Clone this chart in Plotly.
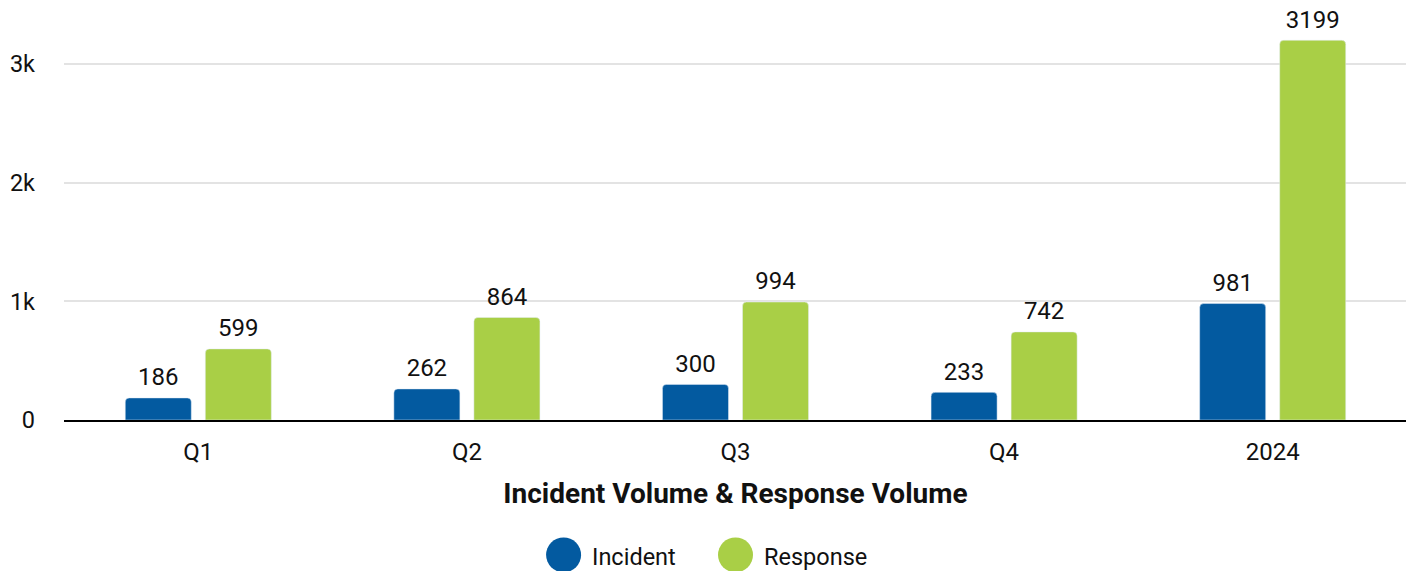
import plotly.graph_objects as go

categories = ["Q1", "Q2", "Q3", "Q4", "2024"]
incident = [186, 262, 300, 233, 981]
response = [599, 864, 994, 742, 3199]
series_names = ["Incident", "Response"]
colors = ["#035AA0", "#A9CF46"]
y_tickvals = [0, 1000, 2000, 3000]
y_ticktext = ["0", "1k", "2k", "3k"]
x_title = "Incident Volume & Response Volume"

FONT = "Roboto"
TXT = "#111111"

fig = go.Figure()
for name, vals, col in zip(series_names, [incident, response], colors):
    fig.add_trace(go.Bar(
        x=categories, y=vals, name=name, marker_color=col,
        offsetgroup=name, showlegend=False, hoverinfo="x+y+name",
    ))
    fig.add_trace(go.Scatter(
        x=categories, y=vals, mode="markers+text", text=[str(v) for v in vals],
        textposition="top center", offsetgroup=name,
        textfont=dict(family=FONT, size=24, color=TXT),
        marker=dict(size=9, color="rgba(0,0,0,0)"),
        showlegend=False, hoverinfo="skip", cliponaxis=False,
    ))

# custom legend (large circle markers)
legend_x = [0.372, 0.500]
for i, (name, col) in enumerate(zip(series_names, colors)):
    fig.add_shape(type="circle", xref="paper", yref="paper",
                  xsizemode="pixel", ysizemode="pixel",
                  xanchor=legend_x[i], yanchor=-0.329,
                  x0=-17.5, x1=17.5, y0=-17.5, y1=17.5,
                  fillcolor=col, line_width=0)
    fig.add_annotation(xref="paper", yref="paper", x=legend_x[i], y=-0.329,
                       xshift=26, yshift=-2, text=name, showarrow=False,
                       xanchor="left", yanchor="middle",
                       font=dict(family=FONT, size=23.5, color=TXT))

fig.update_layout(
    width=1406, height=563,
    margin=dict(l=56, r=7, t=2, b=151, autoexpand=False),
    barmode="group", bargap=0.404, bargroupgap=0.175,
    scattermode="group", scattergap=0.404,
    barcornerradius=4,
    plot_bgcolor="white", paper_bgcolor="white",
    font=dict(family=FONT, size=24, color=TXT),
    showlegend=False,
)
fig.update_xaxes(
    showgrid=False, showline=True, linecolor="black", linewidth=2,
    ticks="", ticklabelstandoff=9,
    title=dict(text="<b>" + x_title + "</b>", standoff=19,
               font=dict(family=FONT, size=28, color=TXT)),
)
fig.update_yaxes(
    range=[0, 3454], tickvals=y_tickvals, ticktext=y_ticktext,
    showgrid=True, gridcolor="#E3E3E3", gridwidth=1.5,
    zeroline=False, ticks="", ticklabelstandoff=28,
    tickfont=dict(size=23.5),
)

fig.write_html("out.html")
